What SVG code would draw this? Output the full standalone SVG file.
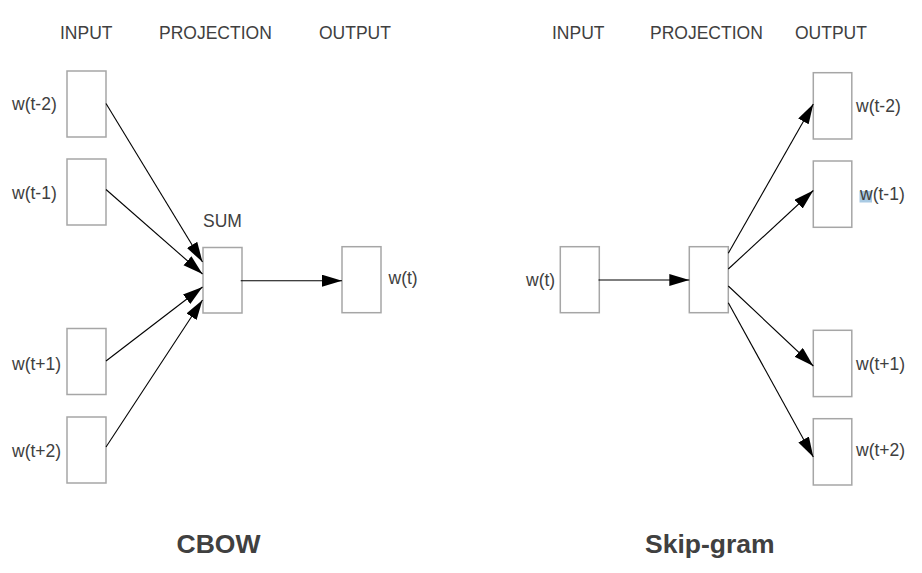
<svg xmlns="http://www.w3.org/2000/svg" width="922" height="573" viewBox="0 0 922 573">
<style>
.box{fill:#fff;stroke:#a6a6a6;stroke-width:1.5}
.lbl{font-family:"Liberation Sans",Arial,sans-serif;font-size:17.5px;fill:#404040}
.ttl{font-family:"Liberation Sans",Arial,sans-serif;font-size:26.5px;font-weight:bold;fill:#404040}
.edge{stroke:#000;stroke-width:1.1;fill:none;marker-end:url(#ah)}
</style>
<defs>
<marker id="ah" markerUnits="userSpaceOnUse" markerWidth="21" markerHeight="13" refX="20" refY="6" orient="auto">
<path d="M0,0 L20,6 L0,12 z" fill="#000"/>
</marker>
</defs>
<rect width="922" height="573" fill="#fff"/>
<g id="headers">
<text class="lbl" x="60" y="39">INPUT</text>
<text class="lbl" x="159" y="39">PROJECTION</text>
<text class="lbl" x="319" y="39">OUTPUT</text>
<text class="lbl" x="552" y="39">INPUT</text>
<text class="lbl" x="650" y="39">PROJECTION</text>
<text class="lbl" x="795" y="39">OUTPUT</text>
</g>
<g id="cbow-in-t-2"><rect class="box" x="67" y="71" width="39" height="66"/><text class="lbl" x="12" y="110">w(t-2)</text></g>
<g id="cbow-in-t-1"><rect class="box" x="67" y="159" width="39" height="66"/><text class="lbl" x="12" y="199">w(t-1)</text></g>
<g id="cbow-in-t+1"><rect class="box" x="67" y="328.5" width="39" height="66"/><text class="lbl" x="12" y="370">w(t+1)</text></g>
<g id="cbow-in-t+2"><rect class="box" x="67" y="417" width="39" height="66"/><text class="lbl" x="12" y="457">w(t+2)</text></g>
<g id="cbow-sum"><rect class="box" x="203" y="247.5" width="39" height="65.5"/><text class="lbl" x="203" y="227">SUM</text></g>
<g id="cbow-out"><rect class="box" x="342" y="246.7" width="39" height="66"/><text class="lbl" x="388.5" y="284">w(t)</text></g>
<g id="sg-in"><rect class="box" x="560.3" y="246.7" width="39" height="66"/><text class="lbl" x="526" y="286">w(t)</text></g>
<g id="sg-proj"><rect class="box" x="689.3" y="246.7" width="39" height="66"/></g>
<g id="sg-out-t-2"><rect class="box" x="813.3" y="72.7" width="38.5" height="66.3"/><text class="lbl" x="856" y="112">w(t-2)</text></g>
<g id="sg-out-t-1"><rect class="box" x="813.3" y="161" width="38.5" height="66.3"/><rect x="859.5" y="191" width="12.5" height="11.5" fill="#a9cae3"/><text class="lbl" x="860" y="200">w(t-1)</text></g>
<g id="sg-out-t+1"><rect class="box" x="813.3" y="330.3" width="38.5" height="66.3"/><text class="lbl" x="856" y="370">w(t+1)</text></g>
<g id="sg-out-t+2"><rect class="box" x="813.3" y="418.7" width="38.5" height="66.3"/><text class="lbl" x="856" y="456">w(t+2)</text></g>
<g id="connectors">
<line class="edge" x1="106" y1="103.5" x2="202.5" y2="262"/>
<line class="edge" x1="106" y1="189.5" x2="202.5" y2="274"/>
<line class="edge" x1="106" y1="361" x2="202.5" y2="287"/>
<line class="edge" x1="106" y1="447" x2="202.5" y2="300"/>
<line class="edge" x1="240.7" y1="280.7" x2="342" y2="280.7"/>
<line class="edge" x1="598.5" y1="280" x2="689.3" y2="280"/>
<line class="edge" x1="728.3" y1="253.3" x2="813.3" y2="104"/>
<line class="edge" x1="728.3" y1="269" x2="813.3" y2="190.5"/>
<line class="edge" x1="728.3" y1="286" x2="813.3" y2="366"/>
<line class="edge" x1="728.3" y1="302.7" x2="813.3" y2="457"/>
</g>
<g id="titles">
<text class="ttl" x="176.5" y="553">CBOW</text>
<text class="ttl" x="645" y="553">Skip-gram</text>
</g>
</svg>
